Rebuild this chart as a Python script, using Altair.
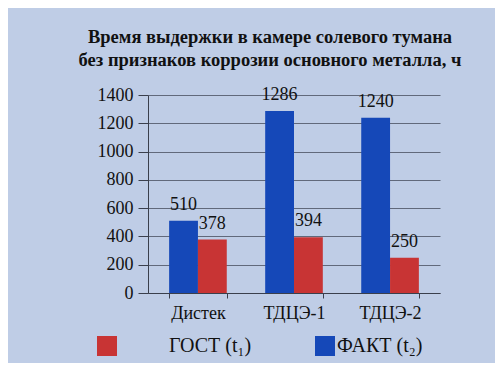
import altair as alt
import pandas as pd

categories = ["Дистек", "ТДЦЭ-1", "ТДЦЭ-2"]
gost = [378, 394, 250]
fakt = [510, 1286, 1240]
series_names = ["ГОСТ (t₁)", "ФАКТ (t₂)"]
title_lines = ["Время выдержки в камере солевого тумана",
               "без признаков коррозии основного металла, ч"]

rows = []
for c, g, f in zip(categories, gost, fakt):
    rows.append({"cat": c, "series": series_names[1], "value": f})
    rows.append({"cat": c, "series": series_names[0], "value": g})
df = pd.DataFrame(rows)

# zero-width space in front keeps Vega from trimming the padding
pad = "\u200b" + "\u00a0" * 10
FONT = "Liberation Serif, Times New Roman, serif"

x = alt.X("cat:N", sort=categories, title=None,
          scale=alt.Scale(paddingInner=0.4, paddingOuter=0.22),
          axis=alt.Axis(labelAngle=0, labelFont=FONT, labelFontSize=18,
                        labelColor="#111", labelPadding=6, tickBand="extent",
                        tickSize=5, domainColor="#3a3f4c", tickColor="#3a3f4c",
                        grid=False))
xo = alt.XOffset("series:N", scale=alt.Scale(domain=[series_names[1], series_names[0]]))
y = alt.Y("value:Q", title=None,
          scale=alt.Scale(domain=[0, 1400], nice=False),
          axis=alt.Axis(values=list(range(0, 1401, 200)), format="d", labelFont=FONT,
                        labelFontSize=18, labelColor="#111", tickSize=10,
                        labelPadding=5, domainColor="#3a3f4c", tickColor="#3a3f4c",
                        grid=True, gridColor="#4a5060", gridOpacity=0.8))

color = alt.Color("series:N",
                  scale=alt.Scale(domain=series_names, range=["#c83434", "#1548b8"]),
                  legend=alt.Legend(title=None, orient="none", direction="horizontal",
                                    legendX=-51, legendY=241, symbolType="square",
                                    symbolSize=400, symbolStrokeWidth=0,
                                    symbolOpacity=1, labelFont=FONT,
                                    labelFontSize=20, labelColor="#111",
                                    labelOffset=2, columnPadding=63, padding=0,
                                    labelExpr=f"datum.label == '{series_names[0]}' ? '{pad}' + datum.label : datum.label"))

base = alt.Chart(df)
bars = base.mark_bar(opacity=1).encode(x=x, xOffset=xo, y=y, color=color)
labels = base.mark_text(font=FONT, fontSize=18, color="#111", baseline="alphabetic",
                        dy=-11).encode(x=x, xOffset=xo, y=y, text="value:Q")

chart = alt.layer(bars, labels).properties(
    width=292, height=198,
    title=alt.TitleParams(text=title_lines, font=FONT, fontSize=18.5, fontWeight="bold",
                          color="#111", anchor="middle", dx=-24, offset=17,
                          lineHeight=23),
    autosize=alt.AutoSizeParams(type="none"),
    padding={"left": 140, "top": 87, "right": 55, "bottom": 70},
    background="#bfcde6",
).configure_view(stroke=None)

chart.save("out.html", embed_options={"renderer": "svg", "actions": False})
